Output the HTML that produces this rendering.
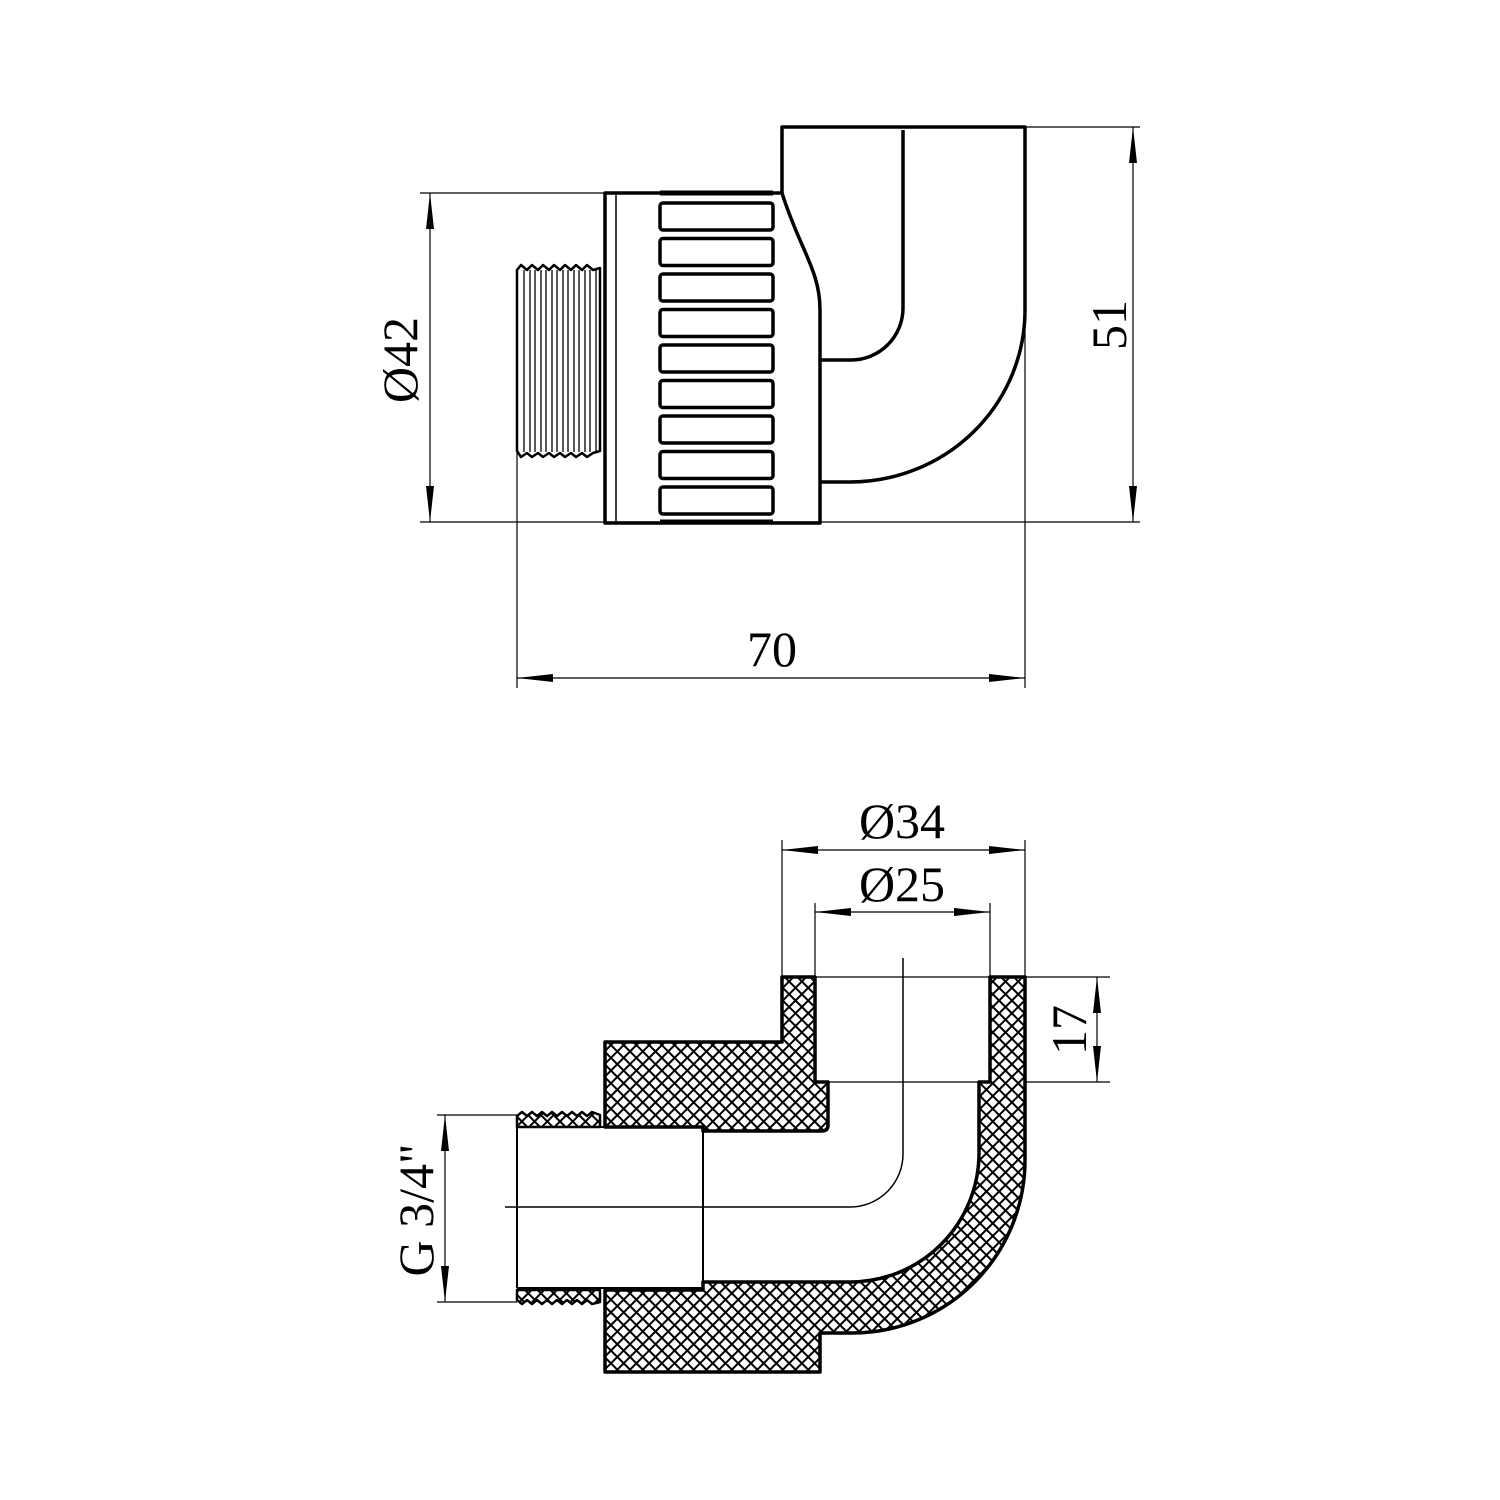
<!DOCTYPE html>
<html><head><style>html,body{margin:0;padding:0;background:#fff}svg{display:block}</style></head>
<body>
<svg width="1500" height="1500" viewBox="0 0 1500 1500" xmlns="http://www.w3.org/2000/svg" font-family="Liberation Serif, serif">
<defs>
<pattern id="h" width="9" height="9" patternUnits="userSpaceOnUse" patternTransform="rotate(45)">
<rect width="9" height="9" fill="#fff"/>
<path d="M0 0H9M0 0V9" stroke="#000" stroke-width="4"/>
</pattern>
<marker id="a" viewBox="0 0 36 10" refX="36" refY="5" markerWidth="36" markerHeight="10" markerUnits="userSpaceOnUse" orient="auto-start-reverse"><path d="M0 1L36 5L0 9Z" fill="#000"/></marker>
</defs>
<g fill="none" stroke="#000">
<!-- TOP VIEW -->
<g stroke-width="1.2">
<line x1="420" y1="193" x2="605" y2="193"/>
<line x1="420" y1="522" x2="1140" y2="522"/>
<line x1="1025" y1="127" x2="1140" y2="127"/>
<line x1="517" y1="453" x2="517" y2="688"/>
<line x1="1025" y1="310" x2="1025" y2="688"/>
<line x1="430" y1="193" x2="430" y2="522" marker-start="url(#a)" marker-end="url(#a)"/>
<line x1="1133" y1="127" x2="1133" y2="522" marker-start="url(#a)" marker-end="url(#a)"/>
<line x1="517" y1="678" x2="1025" y2="678" marker-start="url(#a)" marker-end="url(#a)"/>
</g>
<g stroke-width="3.5" stroke-linejoin="round">
<path d="M782 193V127H1025V310A175 172 0 0 1 850 482H820"/>
<path d="M903 130V308A52 52 0 0 1 851 360H820"/>
<path d="M605 193H782C800 250 820 270 820 310V523H605Z"/>
<line x1="660" y1="193" x2="773" y2="193" stroke-width="5"/>
<line x1="660" y1="522" x2="773" y2="522" stroke-width="5"/>
<g>
<rect x="660" y="203" width="113" height="27" rx="3"/>
<rect x="660" y="238.5" width="113" height="27" rx="3"/>
<rect x="660" y="274" width="113" height="27" rx="3"/>
<rect x="660" y="309.5" width="113" height="27" rx="3"/>
<rect x="660" y="345" width="113" height="27" rx="3"/>
<rect x="660" y="380.5" width="113" height="27" rx="3"/>
<rect x="660" y="416" width="113" height="27" rx="3"/>
<rect x="660" y="451.5" width="113" height="27" rx="3"/>
<rect x="660" y="487" width="113" height="27" rx="3"/>
</g>
<path d="M517 270L521 265L527 270L532 265L538 270L543 265L549 270L554 265L560 270L565 265L571 270L576 265L582 270L587 265L593 270L600 268V451L593 453L587 457L582 453L576 457L571 453L565 457L560 453L554 457L549 453L543 457L538 453L532 457L527 453L521 457L517 451Z" stroke-width="2.5"/>
</g>
<line x1="616" y1="195" x2="616" y2="521" stroke-width="1.5"/>
<g stroke-width="1.3">
<line x1="524" y1="270" x2="524" y2="452"/><line x1="530" y1="270" x2="530" y2="452"/><line x1="535" y1="270" x2="535" y2="452"/><line x1="541" y1="270" x2="541" y2="452"/><line x1="546" y1="270" x2="546" y2="452"/><line x1="552" y1="270" x2="552" y2="452"/><line x1="557" y1="270" x2="557" y2="452"/><line x1="563" y1="270" x2="563" y2="452"/><line x1="568" y1="270" x2="568" y2="452"/><line x1="574" y1="270" x2="574" y2="452"/><line x1="579" y1="270" x2="579" y2="452"/><line x1="585" y1="270" x2="585" y2="452"/><line x1="590" y1="270" x2="590" y2="452"/><line x1="596" y1="270" x2="596" y2="452"/>
</g>

<!-- BOTTOM VIEW -->
<g stroke-width="1.2">
<line x1="782" y1="840" x2="782" y2="977"/>
<line x1="1025" y1="840" x2="1025" y2="977"/>
<line x1="815" y1="903" x2="815" y2="977"/>
<line x1="990" y1="903" x2="990" y2="977"/>
<line x1="782" y1="850" x2="1025" y2="850" marker-start="url(#a)" marker-end="url(#a)"/>
<line x1="815" y1="912" x2="990" y2="912" marker-start="url(#a)" marker-end="url(#a)"/>
<line x1="1025" y1="977" x2="1110" y2="977"/>
<line x1="815" y1="1082" x2="1110" y2="1082"/>
<line x1="815" y1="977" x2="990" y2="977"/>
<line x1="1097" y1="977" x2="1097" y2="1082" marker-start="url(#a)" marker-end="url(#a)"/>
<line x1="437" y1="1115" x2="517" y2="1115"/>
<line x1="437" y1="1302" x2="517" y2="1302"/>
<line x1="445" y1="1115" x2="445" y2="1302" marker-start="url(#a)" marker-end="url(#a)"/>
<path d="M505 1207H850A53 53 0 0 0 903 1154V958" stroke-width="1.5"/>
<line x1="517" y1="1127" x2="517" y2="1288" stroke-width="2"/>
<line x1="703" y1="1127" x2="703" y2="1282" stroke-width="2"/>
<line x1="517" y1="1127" x2="703" y2="1127" stroke-width="2"/>
<line x1="517" y1="1288" x2="703" y2="1288" stroke-width="2"/>
</g>
<g stroke-width="3.5" stroke-linejoin="round" fill="url(#h)">
<path d="M782 977H815V1082H828V1125Q828 1131 822 1131H703V1127H605V1042H782Z"/>
<path d="M990 977H1025V1160A173 173 0 0 1 852 1333H820V1372H605V1290H703V1282H850A129 129 0 0 0 979 1153V1082H990Z"/>
<path d="M517 1127V1116L522 1112L527 1116L532 1112L537 1116L542 1112L547 1116L552 1112L557 1116L562 1112L567 1116L572 1112L577 1116L582 1112L587 1116L592 1112L600 1115V1127Z" stroke-width="2.5"/>
<path d="M517 1290V1300L522 1304L527 1300L532 1304L537 1300L542 1304L547 1300L552 1304L557 1300L562 1304L567 1300L572 1304L577 1300L582 1304L587 1300L592 1304L600 1302V1290Z" stroke-width="2.5"/>
</g>
</g>
<g fill="#000" font-size="50">
<text x="772" y="666" text-anchor="middle">70</text>
<text transform="translate(417,360) rotate(-90)" text-anchor="middle">Ø42</text>
<text transform="translate(1126,325) rotate(-90)" text-anchor="middle">51</text>
<text x="902" y="838" text-anchor="middle">Ø34</text>
<text x="902" y="901" text-anchor="middle">Ø25</text>
<text transform="translate(1086,1030) rotate(-90)" text-anchor="middle">17</text>
<text transform="translate(433,1210) rotate(-90)" text-anchor="middle">G 3/4"</text>
</g>
</svg>
</body></html>
